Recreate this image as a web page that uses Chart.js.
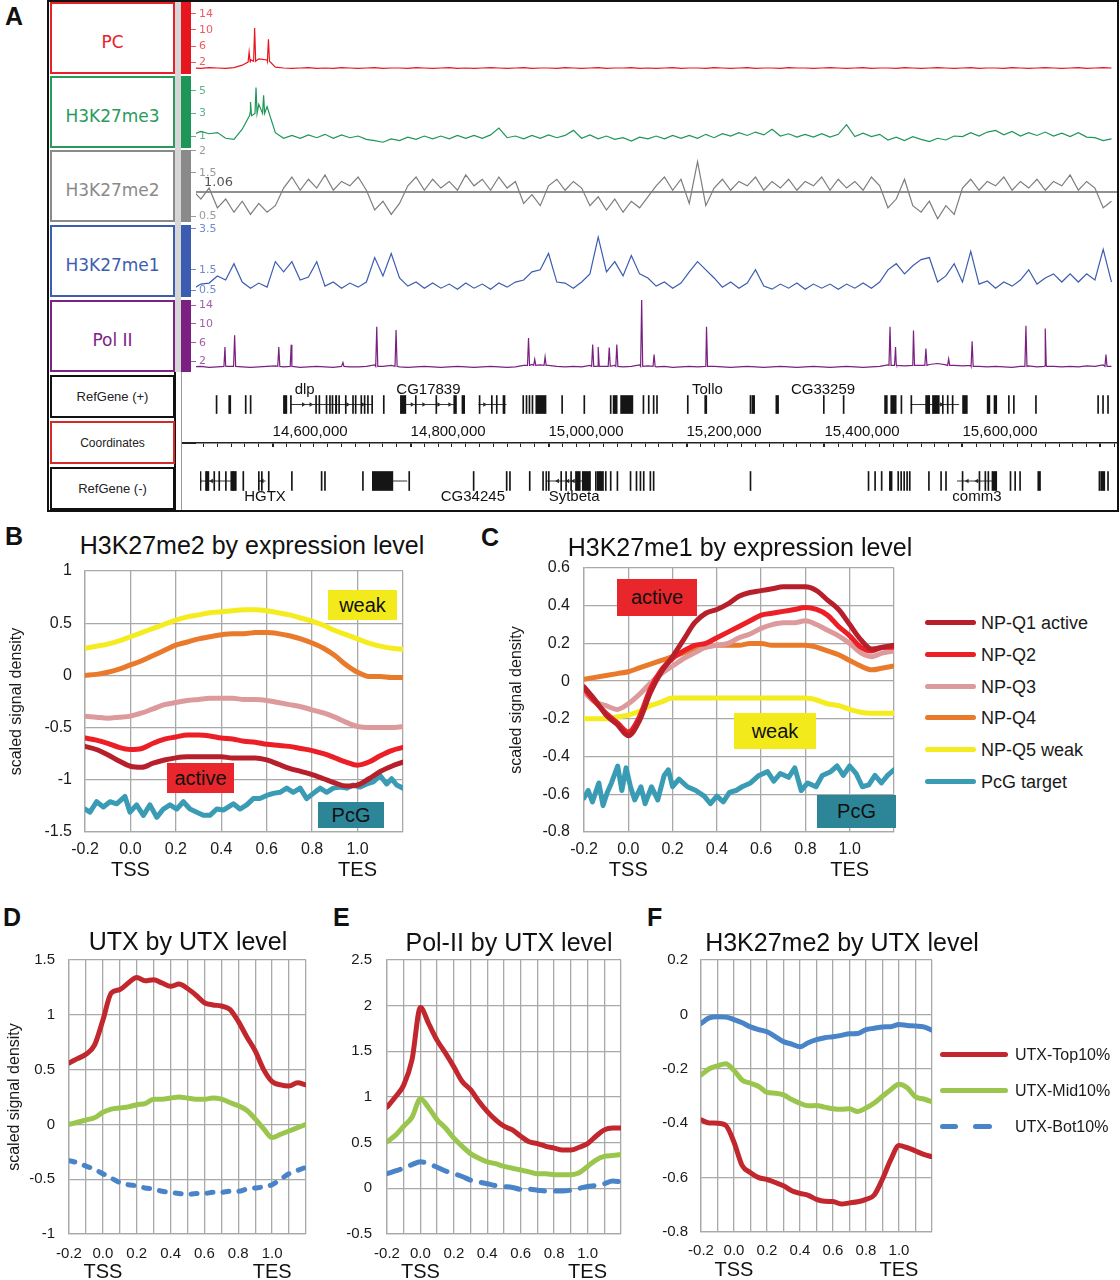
<!DOCTYPE html>
<html>
<head>
<meta charset="utf-8">
<title>H3K27 methylation and UTX profiles</title>
<script src="https://cdn.jsdelivr.net/npm/chart.js"></script>
<style>
  html, body { margin: 0; padding: 0; background: #fff; }
  #stage { position: relative; width: 1120px; height: 1280px; overflow: hidden;
           font-family: "Liberation Sans", Arial, sans-serif; color: #1a1a1a; }
  #stage canvas { position: absolute; }
  .abs { position: absolute; box-sizing: border-box; }
  .letter { font-weight: bold; font-size: 25px; line-height: 1; color: #111; z-index: 5; }
  .title { font-size: 25px; line-height: 1; text-align: center; white-space: nowrap; z-index: 5; color: #111; }
  .tag { font-size: 20px; display: flex; align-items: center; justify-content: center; color: #111; z-index: 5; }
  .lab { border: 2px solid; display: flex; align-items: center; justify-content: center; background: #fff; }
  .trk { font-family: "DejaVu Sans", Verdana, sans-serif; font-size: 17px; padding-top: 8px; }
  .gl { font-size: 13px; color: #222; }
  .leg { font-size: 18px; line-height: 1; white-space: nowrap; z-index: 5; }
  .sw { height: 5px; border-radius: 3px; z-index: 5; }
</style>
</head>
<body>
<div id="stage">
  <!-- panel A: frame and track labels -->
  <div class="abs" style="left:47px;top:0;width:1072px;height:512px;border:2px solid #111"></div>
  <div class="abs" style="left:175px;top:2px;width:6px;height:370px;background:#d6d6d6"></div>
  <div class="abs" style="left:174px;top:372px;width:2px;height:138px;background:#111"></div>
  <div class="abs" style="left:181px;top:372px;width:1px;height:138px;background:#9a9a9a"></div>
  <div class="abs" style="left:182px;top:442px;width:14px;height:2px;background:#222"></div>

  <div class="abs lab trk" style="left:50px;top:2px;width:125px;height:72px;border-color:#e8202a;color:#e8202a">PC</div>
  <div class="abs lab trk" style="left:50px;top:76px;width:125px;height:72px;border-color:#2a9a5c;color:#2a9a5c">H3K27me3</div>
  <div class="abs lab trk" style="left:50px;top:150px;width:125px;height:72px;border-color:#8a8a8a;color:#8a8a8a">H3K27me2</div>
  <div class="abs lab trk" style="left:50px;top:225px;width:125px;height:72px;border-color:#3d5db0;color:#3d5db0">H3K27me1</div>
  <div class="abs lab trk" style="left:50px;top:300px;width:125px;height:72px;border-color:#7d2383;color:#7d2383">Pol II</div>
  <div class="abs lab gl" style="left:50px;top:375px;width:125px;height:43px;border-color:#111">RefGene (+)</div>
  <div class="abs lab gl" style="left:50px;top:421px;width:125px;height:43px;border-color:#d42a2a;font-size:12px">Coordinates</div>
  <div class="abs lab gl" style="left:50px;top:467px;width:125px;height:43px;border-color:#111">RefGene (-)</div>

  <div class="abs" style="left:181px;top:2px;width:10px;height:72px;background:#e5161e"></div>
  <div class="abs" style="left:181px;top:76px;width:10px;height:72px;background:#1e9658"></div>
  <div class="abs" style="left:181px;top:150px;width:10px;height:72px;background:#8a8a8a"></div>
  <div class="abs" style="left:181px;top:225px;width:10px;height:72px;background:#3c5cb2"></div>
  <div class="abs" style="left:181px;top:300px;width:10px;height:72px;background:#7a2080"></div>

  <!-- panel letters and titles -->
  <div class="abs letter" style="left:5px;top:4px">A</div>
  <div class="abs letter" style="left:5px;top:524px">B</div>
  <div class="abs letter" style="left:481px;top:525px">C</div>
  <div class="abs letter" style="left:3px;top:905px">D</div>
  <div class="abs letter" style="left:333px;top:905px">E</div>
  <div class="abs letter" style="left:647px;top:905px">F</div>

  <div class="abs title" style="left:52px;top:533px;width:400px">H3K27me2 by expression level</div>
  <div class="abs title" style="left:540px;top:535px;width:400px">H3K27me1 by expression level</div>
  <div class="abs title" style="left:38px;top:929px;width:300px">UTX by UTX level</div>
  <div class="abs title" style="left:359px;top:930px;width:300px">Pol-II by UTX level</div>
  <div class="abs title" style="left:692px;top:930px;width:300px">H3K27me2 by UTX level</div>

  <!-- in-plot tags -->
  <div class="abs tag" style="left:328px;top:590px;width:69px;height:30px;background:#f3ea1b">weak</div>
  <div class="abs tag" style="left:167px;top:763px;width:67px;height:30px;background:#e8262b">active</div>
  <div class="abs tag" style="left:318px;top:802px;width:66px;height:26px;background:#2c8698">PcG</div>
  <div class="abs tag" style="left:617px;top:579px;width:80px;height:37px;background:#e8262b">active</div>
  <div class="abs tag" style="left:734px;top:713px;width:82px;height:36px;background:#f3ea1b">weak</div>
  <div class="abs tag" style="left:817px;top:795px;width:79px;height:33px;background:#2c8698">PcG</div>

  <!-- legend C -->
  <div class="abs sw" style="left:925px;top:620px;width:51px;background:#b71f2a"></div>
  <div class="abs leg" style="left:981px;top:614px">NP-Q1 active</div>
  <div class="abs sw" style="left:925px;top:652px;width:51px;background:#ec1f26"></div>
  <div class="abs leg" style="left:981px;top:646px">NP-Q2</div>
  <div class="abs sw" style="left:925px;top:684px;width:51px;background:#dc9a9c"></div>
  <div class="abs leg" style="left:981px;top:678px">NP-Q3</div>
  <div class="abs sw" style="left:925px;top:715px;width:51px;background:#e97a2c"></div>
  <div class="abs leg" style="left:981px;top:709px">NP-Q4</div>
  <div class="abs sw" style="left:925px;top:747px;width:51px;background:#f4ec1f"></div>
  <div class="abs leg" style="left:981px;top:741px">NP-Q5 weak</div>
  <div class="abs sw" style="left:925px;top:779px;width:51px;background:#3a9bb5"></div>
  <div class="abs leg" style="left:981px;top:773px">PcG target</div>

  <!-- legend F -->
  <div class="abs sw" style="left:940px;top:1052px;width:68px;background:#c1272d"></div>
  <div class="abs leg" style="left:1015px;top:1047px;font-size:16px">UTX-Top10%</div>
  <div class="abs sw" style="left:940px;top:1088px;width:68px;background:#9ac64e"></div>
  <div class="abs leg" style="left:1015px;top:1083px;font-size:16px">UTX-Mid10%</div>
  <div class="abs sw" style="left:940px;top:1124px;width:18px;background:#4a84c8"></div>
  <div class="abs sw" style="left:973px;top:1124px;width:19px;background:#4a84c8"></div>
  <div class="abs leg" style="left:1015px;top:1119px;font-size:16px">UTX-Bot10%</div>
</div>

<script>
'use strict'
// ---------------- panel A: browser tracks (positions in kb) ----------------
const A_MIN = 14489, A_MAX = 15824;
const coordLabels = [14600, 14800, 15000, 15200, 15400, 15600];

const binsKb = [
  14484, 14496, 14508, 14520, 14532, 14544, 14556, 14568, 14580, 14592,
  14604, 14616, 14628, 14640, 14652, 14664, 14676, 14688, 14700, 14712,
  14724, 14736, 14748, 14760, 14772, 14784, 14796, 14808, 14820, 14832,
  14844, 14856, 14868, 14880, 14892, 14904, 14916, 14928, 14940, 14952,
  14964, 14976, 14988, 15000, 15012, 15024, 15036, 15048, 15060, 15072,
  15084, 15096, 15108, 15120, 15132, 15144, 15156, 15168, 15180, 15192,
  15204, 15216, 15228, 15240, 15252, 15264, 15276, 15288, 15300, 15312,
  15324, 15336, 15348, 15360, 15372, 15384, 15396, 15408, 15420, 15432,
  15444, 15456, 15468, 15480, 15492, 15504, 15516, 15528, 15540, 15552,
  15564, 15576, 15588, 15600, 15612, 15624, 15636, 15648, 15660, 15672,
  15684, 15696, 15708, 15720, 15732, 15744, 15756, 15768, 15780, 15792,
  15804, 15816];

const pcVals = [
  0.5,0.4,0.6,0.5,0.4,0.6,1.2,2.6,2.8,2.5,
  0.7,0.5,0.4,0.5,0.6,0.4,0.5,0.4,0.6,0.5,
  0.4,0.5,0.6,0.4,0.5,0.5,0.4,0.6,0.5,0.4,
  0.5,0.6,0.4,0.5,0.4,0.5,0.6,0.5,0.4,0.5,
  0.6,0.4,0.5,0.5,0.4,0.6,0.5,0.4,0.5,0.6,
  0.4,0.5,0.5,0.6,0.4,0.5,0.4,0.5,0.6,0.4,
  0.5,0.5,0.4,0.6,0.5,0.4,0.5,0.6,0.4,0.5,
  0.5,0.4,0.6,0.5,0.5,0.4,0.5,0.6,0.5,0.4,
  0.5,0.6,0.4,0.5,0.5,0.4,0.6,0.5,0.4,0.5,
  0.6,0.5,0.4,0.5,0.6,0.4,0.5,0.5,0.4,0.6,
  0.5,0.4,0.5,0.6,0.5,0.4,0.5,0.6,0.4,0.5,
  0.6,0.5];
const pcSpikes = [[14566, 4.5, 2.0], [14574, 10.5, 2.2], [14594, 7.7, 2.2]];   // [kb, top, base]

const me3Vals = [
  1.1,1.4,1.2,1.3,0.8,0.7,1.6,3.2,3.8,3.6,
  1.3,0.8,1.05,0.8,1.1,0.85,1.15,0.8,1.1,0.85,
  1.0,0.7,0.6,0.45,0.75,0.6,0.9,0.7,1.0,0.75,
  1.0,0.75,1.05,0.8,1.05,0.8,1.1,1.7,0.85,1.0,
  0.75,1.05,0.8,1.1,0.85,1.05,1.5,0.8,1.1,0.75,
  1.0,0.7,0.85,0.55,0.9,0.75,1.0,0.75,1.05,0.8,
  1.05,0.8,1.15,0.85,1.2,1.0,1.3,1.05,1.35,1.1,
  1.6,1.0,1.2,0.9,1.15,0.9,1.2,0.9,1.15,2.0,
  0.95,1.25,0.95,1.15,0.65,0.9,0.6,0.95,0.7,0.5,
  0.8,0.65,1.0,0.95,1.3,1.0,1.35,1.5,1.1,1.4,
  1.0,1.3,1.05,1.35,1.0,1.25,0.95,1.3,0.9,0.85,
  0.6,0.75];
const me3Spikes = [[14568, 4.0, 2.8], [14576, 5.3, 3.0], [14587, 4.6, 3.0]];

const me2Vals = [
  1.1,0.9,1.15,0.7,0.9,0.6,0.85,0.55,0.8,0.6,
  0.75,1.15,1.4,1.1,1.35,1.15,1.45,1.1,1.3,1.2,
  1.4,1.1,0.65,0.85,0.55,0.8,1.2,1.4,1.1,1.35,
  1.15,1.3,1.1,1.45,1.2,1.35,1.1,1.4,1.15,1.3,
  0.8,1.0,0.75,1.2,1.35,1.1,1.3,1.15,0.75,0.95,
  0.65,0.9,0.6,0.85,0.7,0.95,1.2,1.4,1.1,1.35,
  0.8,1.75,0.75,1.15,1.35,1.1,1.3,1.2,1.4,1.1,
  1.3,1.15,1.35,1.1,1.3,1.2,1.4,1.1,1.35,1.15,
  1.3,1.1,1.4,1.2,0.7,0.9,1.35,0.75,0.6,0.85,
  0.45,0.75,0.55,1.15,1.35,1.1,1.3,1.2,1.4,1.1,
  1.3,1.15,1.35,1.1,1.3,1.2,1.45,1.1,1.3,1.15,
  0.7,0.85];
const me2Ref = 1.06;

const me1Vals = [
  0.55,0.8,0.85,1.2,1.0,1.8,0.9,0.6,0.85,0.65,
  1.9,1.4,1.9,1.0,1.15,1.9,0.7,0.9,0.6,0.85,
  0.65,0.9,2.1,1.2,2.3,1.1,0.7,0.9,0.6,0.85,
  0.6,0.8,0.55,0.85,0.6,0.8,0.55,0.85,0.65,0.9,
  1.0,1.4,1.5,2.3,0.9,0.85,0.6,0.9,1.3,3.1,
  1.4,1.9,1.2,2.2,1.3,1.1,0.7,0.9,0.6,0.85,
  1.4,1.9,1.5,1.1,0.65,0.9,0.6,0.85,1.5,0.7,
  0.55,0.8,0.6,0.85,0.55,0.8,0.6,0.8,0.55,0.8,
  0.6,0.85,0.6,0.9,1.5,1.8,1.3,1.7,2.0,2.1,
  0.9,1.2,1.8,0.9,2.4,0.8,0.95,0.6,0.9,0.7,
  1.0,1.5,0.8,1.1,1.3,0.9,1.3,0.9,1.3,1.0,
  2.5,0.9];

const polVals = [
  0.9,1.0,0.8,0.9,1.1,1.0,0.9,0.8,0.9,1.0,
  1.1,0.9,1.0,0.8,0.9,1.0,0.9,0.8,1.0,0.9,
  0.9,1.0,1.3,1.0,1.2,0.9,0.8,0.9,1.0,0.9,
  0.8,0.9,1.0,0.9,0.8,0.9,1.0,0.9,0.8,0.9,
  1.2,1.4,1.3,1.2,1.0,0.9,1.0,0.9,1.2,1.1,
  1.0,1.2,0.9,1.0,1.3,1.1,0.9,1.0,0.8,0.9,
  1.0,0.9,1.2,1.0,0.9,0.8,0.9,1.0,0.9,0.8,
  0.9,1.0,0.9,0.8,0.9,1.0,0.9,0.8,0.9,1.0,
  0.9,0.8,0.9,1.0,1.3,1.4,1.1,1.3,1.2,1.4,
  1.6,1.3,1.2,1.1,1.2,1.0,0.9,1.0,0.9,0.8,
  1.0,1.1,0.9,1.2,1.0,0.9,1.0,0.9,1.1,1.0,
  1.3,1.0];
const polSpikes = [
  [14531,5.1,1],[14545,7.6,1],[14609,5.1,1],[14627,5.6,1],[14702,1.8,1],[14751,9.4,1],
  [14779,8.7,1],[14971,7.0,1.2],[14980,2.5,1.2],[14995,3.0,1.2],[15064,5.6,1],[15072,5.1,1],
  [15088,5.0,1],[15099,5.6,1],[15135,15.2,1],[15153,3.5,1],[15229,9.4,1],[15495,9.4,1.2],
  [15503,5.1,1.2],[15529,8.6,1.2],[15547,4.8,1.2],[15580,2.6,1.2],[15614,6.3,1],[15692,9.6,1],
  [15720,9.0,1],[15808,3.5,1]];

// gene models: single thin exons, wider exon blocks, intron spans, strand arrows
const plusThin = [14512.5,14555.1,14562.3,14621.2,14658.0,14662.8,14673.3,14678.3,14682.0,14691.7,
  14701.4,14712.0,14715.9,14724.1,14729.0,14733.8,14740.0,14757.0,14803.8,14833.8,14897.1,14915.0,
  14922.2,14960.9,14965.7,14970.0,14974.4,15017.8,15050.2,15088.8,15136.7,15144.4,15151.6,15156.5,
  15201.5,15293.2,15400.4,15429.4,15513.9,15528.4,15574.4,15581.6,15588.8,15671.0,15678.3,15710.6,
  15801.5,15808.7,15816.0];
const plusBlocks = [[14531,14534],[14611,14616],[14687,14689],[14782,14790],[14860,14864],[14872,14876],
  [14932,14935],[14980,14995],[15093,15099],[15104,15122],[15227,15230],[15296,15300],[15331,15335],
  [15490,15494],[15499,15507],[15550,15556],[15560,15570],[15604,15611],[15640,15644],[15650,15654]];
const plusIntrons = [[14622,14741],[14790,14864],[14896,14937],[15528,15599]];
const plusArrows = [14640,14651,14705,14727,14799,14816,14838,14854,14905,15573];
const plusNames = ['dlp', 'CG17839', 'Tollo', 'CG33259'];
const plusNameKb = [14642, 14823, 15231, 15400];

const minusThin = [14477.7,14497.1,14509.1,14516.4,14526.1,14536.7,14540.6,14551.6,14574.3,14578.7,
  14588.8,14622.6,14666.1,14671.0,14726.5,14794.2,14888.4,14936.7,14941.5,14970.4,14989.9,14994.6,
  14998.3,15016.4,15023.6,15030.9,15067.1,15081.6,15088.8,15098.6,15117.8,15126.5,15132.3,15137.1,
  15146.8,15151.6,15293.2,15465.8,15475.4,15485.0,15509.2,15513.5,15517.9,15522.2,15526.1,15554.1,
  15571.9,15579.1,15603.3,15628.0,15636.6,15641.0,15673.4,15680.2,15687.4,15803.4,15816.0];
const minusBlocks = [[14498,14502],[14534,14540],[14741,14771],[15038,15045],[15048,15060],[15070,15079],
  [15497,15501],[15647,15654],[15714,15718],[15806,15812]];
const minusIntrons = [[14468,14541],[14574,14585],[14770,14792],[14995,15053],[15596,15649]];
const minusArrows = [14474,14489,14506,14580,15012,15027,15035,15611,15625];
const minusNames = ['HGTX', 'CG34245', 'Sytbeta', 'comm3'];
const minusNameKb = [14584, 14888, 15036, 15625];

// ---------------- panels B-F: metagene profiles ----------------
const xs = [-0.2,-0.15,-0.1,-0.05,0,0.05,0.1,0.15,0.2,0.25,0.3,0.35,0.4,0.45,0.5,
            0.55,0.6,0.65,0.7,0.75,0.8,0.85,0.9,0.95,1,1.05,1.1,1.15,1.2];

const bQ1 = [-0.68,-0.71,-0.76,-0.82,-0.87,-0.88,-0.84,-0.81,-0.79,-0.78,-0.78,-0.78,-0.78,-0.79,-0.79,
             -0.79,-0.81,-0.85,-0.89,-0.92,-0.95,-0.99,-1.03,-1.06,-1.05,-0.99,-0.92,-0.87,-0.83];
const bQ2 = [-0.60,-0.62,-0.65,-0.69,-0.71,-0.70,-0.65,-0.61,-0.59,-0.57,-0.57,-0.58,-0.60,-0.61,-0.63,
             -0.64,-0.66,-0.67,-0.68,-0.70,-0.72,-0.75,-0.79,-0.83,-0.86,-0.83,-0.77,-0.72,-0.69];
const bQ3 = [-0.39,-0.40,-0.41,-0.40,-0.39,-0.36,-0.32,-0.28,-0.26,-0.24,-0.23,-0.22,-0.22,-0.22,-0.23,
             -0.23,-0.24,-0.26,-0.28,-0.30,-0.33,-0.36,-0.40,-0.45,-0.49,-0.50,-0.50,-0.50,-0.49];
const bQ4 = [0.00,0.01,0.03,0.06,0.10,0.14,0.19,0.24,0.29,0.32,0.35,0.37,0.39,0.40,0.40,
             0.41,0.41,0.40,0.38,0.35,0.31,0.26,0.19,0.10,0.03,-0.01,-0.01,-0.02,-0.02];
const bQ5 = [0.26,0.28,0.30,0.33,0.37,0.41,0.45,0.49,0.53,0.56,0.58,0.60,0.61,0.62,0.63,
             0.63,0.62,0.60,0.58,0.55,0.52,0.48,0.43,0.39,0.35,0.31,0.28,0.26,0.25];
const bPcgX = [-0.2,-0.178,-0.149,-0.119,-0.09,-0.061,-0.024,-0.002,0.027,0.057,0.086,0.116,0.145,0.174,
  0.204,0.233,0.262,0.292,0.321,0.35,0.38,0.409,0.453,0.482,0.512,0.541,0.57,0.6,0.629,0.659,0.688,
  0.717,0.747,0.776,0.805,0.835,0.864,0.893,0.923,0.952,0.981,1.011,1.04,1.069,1.099,1.128,1.15,1.172,1.2];
const bPcgY = [-1.28,-1.31,-1.21,-1.26,-1.21,-1.23,-1.16,-1.31,-1.24,-1.34,-1.24,-1.36,-1.28,-1.24,
  -1.28,-1.21,-1.28,-1.31,-1.34,-1.34,-1.28,-1.29,-1.23,-1.28,-1.24,-1.18,-1.18,-1.15,-1.13,-1.12,-1.08,
  -1.12,-1.08,-1.18,-1.13,-1.08,-1.12,-1.08,-1.07,-1.08,-1.05,-1.07,-1.04,-1.02,-0.96,-1.04,-0.99,-1.05,-1.08];

const cQ1 = [-0.03,-0.10,-0.18,-0.23,-0.29,-0.21,-0.06,0.05,0.13,0.22,0.31,0.36,0.38,0.41,0.45,
             0.47,0.48,0.49,0.50,0.50,0.50,0.48,0.43,0.38,0.30,0.22,0.17,0.18,0.19];
const cQ2 = [-0.04,-0.11,-0.17,-0.22,-0.27,-0.19,-0.04,0.06,0.12,0.16,0.19,0.20,0.23,0.26,0.29,
             0.32,0.35,0.36,0.37,0.38,0.39,0.38,0.35,0.29,0.24,0.18,0.16,0.18,0.18];
const cQ3 = [-0.06,-0.11,-0.13,-0.15,-0.12,-0.07,-0.01,0.04,0.08,0.12,0.15,0.18,0.19,0.20,0.23,
             0.25,0.28,0.30,0.31,0.31,0.32,0.30,0.27,0.24,0.20,0.15,0.13,0.15,0.16];
const cQ4 = [0.01,0.02,0.03,0.04,0.05,0.07,0.09,0.11,0.13,0.15,0.17,0.18,0.19,0.19,0.19,
             0.20,0.20,0.19,0.19,0.19,0.19,0.18,0.16,0.14,0.11,0.08,0.06,0.07,0.08];
const cQ5 = [-0.20,-0.20,-0.20,-0.19,-0.18,-0.16,-0.13,-0.11,-0.09,-0.09,-0.09,-0.09,-0.09,-0.09,-0.09,
             -0.09,-0.09,-0.09,-0.09,-0.09,-0.09,-0.10,-0.12,-0.13,-0.15,-0.165,-0.17,-0.17,-0.17];
const cPcgX = [-0.2,-0.181,-0.162,-0.133,-0.114,-0.095,-0.076,-0.048,-0.029,-0.01,0.01,0.029,0.057,0.076,
  0.105,0.133,0.162,0.181,0.2,0.229,0.267,0.305,0.343,0.371,0.4,0.429,0.457,0.486,0.514,0.552,0.59,0.629,
  0.657,0.686,0.724,0.752,0.781,0.81,0.848,0.876,0.914,0.943,0.971,1.0,1.029,1.057,1.086,1.114,1.143,1.171,1.2];
const cPcgY = [-0.62,-0.58,-0.64,-0.54,-0.66,-0.59,-0.54,-0.45,-0.58,-0.46,-0.56,-0.63,-0.56,-0.65,
  -0.56,-0.63,-0.50,-0.47,-0.56,-0.52,-0.56,-0.58,-0.61,-0.65,-0.61,-0.64,-0.59,-0.58,-0.56,-0.54,-0.50,
  -0.48,-0.53,-0.49,-0.51,-0.46,-0.58,-0.54,-0.56,-0.50,-0.48,-0.45,-0.50,-0.45,-0.49,-0.56,-0.55,-0.50,
  -0.54,-0.50,-0.47];

const dTop = [0.56,0.60,0.64,0.72,0.95,1.20,1.23,1.29,1.34,1.31,1.32,1.29,1.26,1.28,1.24,
              1.18,1.11,1.09,1.08,1.05,0.94,0.80,0.67,0.50,0.39,0.36,0.35,0.38,0.36];
const dMid = [0.00,0.02,0.04,0.06,0.11,0.14,0.15,0.16,0.18,0.19,0.23,0.23,0.24,0.25,0.24,
              0.23,0.23,0.24,0.23,0.20,0.17,0.13,0.05,-0.04,-0.12,-0.09,-0.06,-0.03,0.00];
const dBot = [-0.33,-0.35,-0.38,-0.41,-0.45,-0.49,-0.53,-0.55,-0.56,-0.58,-0.59,-0.61,-0.62,-0.63,-0.64,
              -0.63,-0.63,-0.62,-0.62,-0.61,-0.61,-0.59,-0.58,-0.57,-0.55,-0.50,-0.45,-0.42,-0.39];

const eTop = [0.89,1.00,1.13,1.41,1.98,1.80,1.62,1.48,1.33,1.17,1.08,0.95,0.84,0.75,0.68,
              0.64,0.57,0.51,0.49,0.46,0.44,0.42,0.42,0.45,0.49,0.57,0.64,0.66,0.66];
const eMid = [0.51,0.58,0.68,0.78,0.98,0.88,0.75,0.66,0.55,0.46,0.38,0.33,0.29,0.27,0.24,
              0.22,0.20,0.18,0.16,0.16,0.15,0.15,0.15,0.17,0.24,0.31,0.35,0.36,0.37];
const eBot = [0.16,0.19,0.22,0.26,0.29,0.27,0.23,0.19,0.16,0.13,0.09,0.07,0.05,0.03,0.02,
              0.01,-0.01,-0.01,-0.02,-0.03,-0.03,-0.03,-0.02,0.00,0.02,0.03,0.05,0.08,0.07];

const fTop = [-0.388,-0.399,-0.400,-0.408,-0.470,-0.556,-0.582,-0.600,-0.607,-0.618,-0.630,-0.648,-0.658,-0.665,-0.680,
              -0.687,-0.688,-0.697,-0.693,-0.689,-0.680,-0.664,-0.605,-0.534,-0.482,-0.490,-0.502,-0.515,-0.523];
const fMid = [-0.223,-0.200,-0.189,-0.181,-0.206,-0.242,-0.253,-0.265,-0.287,-0.290,-0.296,-0.313,-0.327,-0.336,-0.335,
              -0.341,-0.347,-0.349,-0.347,-0.357,-0.344,-0.326,-0.301,-0.277,-0.257,-0.270,-0.303,-0.311,-0.321];
const fBot = [-0.033,-0.013,-0.009,-0.010,-0.019,-0.031,-0.046,-0.056,-0.064,-0.082,-0.100,-0.109,-0.119,-0.104,-0.093,
              -0.086,-0.082,-0.077,-0.071,-0.070,-0.056,-0.051,-0.046,-0.045,-0.037,-0.041,-0.043,-0.046,-0.058];

// ---------------- helpers ----------------
const FONT = '"Liberation Sans", Arial, sans-serif';
const GRID = '#a9a9a9';
const C_Q1 = '#b71f2a', C_Q2 = '#ec1f26', C_Q3 = '#dc9a9c', C_Q4 = '#e97a2c', C_Q5 = '#f4ec1f', C_PCG = '#3a9bb5';
const C_TOP = '#c1272d', C_MID = '#9ac64e', C_BOT = '#4a84c8';

function canvasAt(left, top, w, h) {
  const c = document.createElement('canvas');
  c.width = w; c.height = h;
  c.style.left = left + 'px'; c.style.top = top + 'px';
  document.getElementById('stage').appendChild(c);
  return c;
}

// text placed with the chart's own scales
function textMarks(items, st) {
  return {
    id: 'textMarks',
    afterDatasetsDraw(chart) {
      const {ctx, chartArea, scales} = chart;
      ctx.save();
      ctx.font = st.font;
      ctx.fillStyle = st.color || '#111';
      ctx.textAlign = st.align || 'center';
      ctx.textBaseline = 'middle';
      items.forEach(it => {
        const x = scales.x.getPixelForValue(it.x) + (st.shiftX || 0);
        const y = (st.below != null ? chartArea.bottom + st.below : scales.y.getPixelForValue(it.y)) + (st.shiftY || 0);
        ctx.fillText(it.text, x, y);
      });
      ctx.restore();
    }
  };
}

function trackChart(o) {
  const c = canvasAt(188, o.top, 929, o.h);
  const pts = binsKb.map((x, i) => ({x: x, y: o.vals[i]}));
  (o.spikes || []).forEach(s => {
    pts.push({x: s[0] - 1.5, y: s[2]}, {x: s[0], y: s[1]}, {x: s[0] + 1.5, y: s[2]});
  });
  pts.sort((a, b) => a.x - b.x);
  const datasets = [{data: pts, borderColor: o.color, borderWidth: 1.2, pointRadius: 0, tension: 0}];
  const extra = [];
  if (o.ref != null) {
    datasets.push({data: [{x: A_MIN, y: o.ref}, {x: A_MAX, y: o.ref}], borderColor: '#222', borderWidth: 1.2, pointRadius: 0});
    extra.push(textMarks([{text: String(o.ref), x: A_MIN, y: o.ref}],
      {font: '13px "DejaVu Sans", Verdana, sans-serif', color: '#555', align: 'left', shiftX: 8, shiftY: -9}));
  }
  new Chart(c, {
    type: 'line',
    data: {datasets: datasets},
    options: {
      responsive: false, animation: false, events: [],
      plugins: {legend: {display: false}, tooltip: {enabled: false}},
      scales: {
        x: {type: 'linear', min: A_MIN, max: A_MAX, display: false},
        y: {min: o.min, max: o.max,
            afterBuildTicks: s => { s.ticks = o.ticks.map(v => ({value: v})); },
            afterFit: s => { s.width = 8; s.paddingTop = 0; s.paddingBottom = 0; },
            ticks: {mirror: true, padding: 3, color: o.tickColor, callback: v => String(v),
                    font: {family: '"DejaVu Sans", Verdana, sans-serif', size: 11}},
            grid: {drawOnChartArea: false, drawTicks: true, tickLength: 5, color: o.tickColor},
            border: {display: false}}
      }
    },
    plugins: extra
  });
}

function geneChart(o) {
  const c = canvasAt(196, o.top, 921, o.h);
  const bars = o.thin.map(p => ({x: [p, p], y: 0})).concat(o.blocks.map(b => ({x: b, y: 0})));
  const intronPts = [];
  o.introns.forEach(([s, e]) => { intronPts.push({x: s, y: 0}, {x: e, y: 0}, {x: e, y: null}); });
  new Chart(c, {
    type: 'bar',
    data: {datasets: [
      {type: 'bar', indexAxis: 'y', data: bars, backgroundColor: '#151515', barThickness: o.thick,
       minBarLength: 1, borderWidth: 0},
      {type: 'line', data: intronPts, borderColor: '#333', borderWidth: 1, pointRadius: 0, spanGaps: false},
      {type: 'line', data: o.arrows.map(p => ({x: p, y: 0})), showLine: false, pointStyle: 'triangle',
       rotation: o.rot, pointRadius: 2.5, pointBackgroundColor: '#222', pointBorderWidth: 0}
    ]},
    options: {
      responsive: false, animation: false, events: [],
      plugins: {legend: {display: false}, tooltip: {enabled: false}},
      scales: {
        x: {type: 'linear', min: A_MIN, max: A_MAX, display: false, offset: false},
        y: {type: 'linear', min: o.yMin, max: o.yMax, display: false, offset: false}
      }
    },
    plugins: [textMarks(o.names.map((t, i) => ({text: t, x: o.nameKb[i], y: o.nameY})),
                        {font: '15px ' + FONT, color: '#111'})]
  });
}

function coordChart() {
  const c = canvasAt(196, 420, 921, 27);
  new Chart(c, {
    type: 'line',
    data: {datasets: []},
    options: {
      responsive: false, animation: false, events: [],
      plugins: {legend: {display: false}, tooltip: {enabled: false}},
      scales: {
        x: {type: 'linear', position: 'top', min: A_MIN, max: A_MAX,
            afterFit: s => { s.height = 23; s.paddingLeft = 0; s.paddingRight = 0; },
            ticks: {stepSize: 20, includeBounds: false, autoSkip: false, maxRotation: 0, align: 'start',
                    padding: 2, color: '#111', font: {family: FONT, size: 15},
                    callback: v => (coordLabels.includes(v) ? (v * 1000).toLocaleString('en-US') : '')},
            grid: {drawTicks: false, color: '#222', lineWidth: ctx => (ctx.tick && ctx.tick.value % 200 === 0 ? 2 : 1)},
            border: {color: '#222', width: 1.5}},
        y: {display: false, min: 0, max: 1}
      }
    }
  });
}

function profileChart(o) {
  const c = canvasAt(o.left, o.top, o.w, o.h);
  const yW = o.area[0] - o.left - o.padL;
  const xH = o.top + o.h - o.area[3];
  const datasets = o.series.map(s => ({
    data: s.x.map((x, i) => ({x: x, y: s.y[i]})),
    borderColor: s.color, borderWidth: 5, borderDash: s.dash || [],
    borderCapStyle: 'round', borderJoinStyle: 'round', pointRadius: 0, fill: false,
    tension: s.rough ? 0 : 0.4, cubicInterpolationMode: s.rough ? 'default' : 'monotone'
  }));
  new Chart(c, {
    type: 'line',
    data: {datasets: datasets},
    options: {
      responsive: false, animation: false, events: [],
      layout: {padding: {left: o.padL, top: o.area[1] - o.top, right: o.left + o.w - o.area[2], bottom: 0}},
      plugins: {legend: {display: false}, tooltip: {enabled: false}},
      scales: {
        x: {type: 'linear', min: -0.2, max: 1.2,
            afterFit: s => { s.height = xH; s.paddingLeft = 0; s.paddingRight = 0; },
            ticks: {stepSize: o.xStep, autoSkip: false, maxRotation: 0, padding: o.xPad, color: '#1a1a1a',
                    font: {family: FONT, size: o.fs},
                    callback: (v, i, t) => (i % o.every === 0 && i < t.length - 1
                      ? (Math.abs(v) < 1e-9 ? 0 : v).toFixed(1) : '')},
            grid: {color: GRID, lineWidth: 1.3, drawTicks: false},
            border: {color: GRID, width: 1.3}},
        y: {min: o.yMin, max: o.yMax,
            afterFit: s => { s.width = yW; s.paddingTop = 0; s.paddingBottom = 0; },
            ticks: {stepSize: o.yStep, padding: o.yPad, color: '#1a1a1a', font: {family: FONT, size: o.fs},
                    callback: v => String(Math.round(v * 100) / 100 || 0)},
            grid: {color: GRID, lineWidth: 1.3, drawTicks: false},
            border: {color: GRID, width: 1.3},
            title: {display: !!o.yTitle, text: o.yTitle || '', color: '#1a1a1a',
                    font: {family: FONT, size: 16}, padding: {top: 4, bottom: 0}}}
      }
    },
    plugins: [textMarks([{text: 'TSS', x: 0}, {text: 'TES', x: 1}], {font: '20px ' + FONT, color: '#111', below: 38})]
  });
}

// ---------------- build panel A ----------------
trackChart({top: 2, h: 72, min: -1, max: 17, ticks: [14, 10, 6, 2], vals: pcVals, spikes: pcSpikes,
            color: '#e5161e', tickColor: '#f0595e'});
trackChart({top: 76, h: 72, min: -0.06, max: 6.31, ticks: [5, 3, 1], vals: me3Vals, spikes: me3Spikes,
            color: '#1e9658', tickColor: '#5cb487'});
trackChart({top: 143, h: 79, min: 0.378, max: 2.174, ticks: [2, 1.5, 0.5], vals: me2Vals, ref: me2Ref,
            color: '#7d7d7d', tickColor: '#9a9a9a'});
trackChart({top: 222, h: 75, min: 0.167, max: 3.843, ticks: [3.5, 2.5, 1.5, 1, 0.5], vals: me1Vals,
            color: '#3c5cb2', tickColor: '#6f8ccc'});
trackChart({top: 300, h: 72, min: -0.195, max: 15.06, ticks: [14, 10, 6, 2], vals: polVals, spikes: polSpikes,
            color: '#7a2080', tickColor: '#a35ea8'});

geneChart({top: 375, h: 45, yMin: -0.45, yMax: 1, thick: 18, thin: plusThin, blocks: plusBlocks,
           introns: plusIntrons, arrows: plusArrows, rot: 90, names: plusNames, nameKb: plusNameKb, nameY: 0.565});
coordChart();
geneChart({top: 465, h: 45, yMin: -1.0, yMax: 0.48, thick: 19, thin: minusThin, blocks: minusBlocks,
           introns: minusIntrons, arrows: minusArrows, rot: -90, names: minusNames, nameKb: minusNameKb, nameY: -0.638});

// ---------------- build panels B-F ----------------
profileChart({left: 0, top: 560, w: 460, h: 330, area: [85, 571, 403, 832], padL: 3,
  yMin: -1.5, yMax: 1, yStep: 0.5, xStep: 0.2, every: 1, fs: 16, xPad: 8, yPad: 13, yTitle: 'scaled signal density',
  series: [
    {x: xs, y: bQ1, color: C_Q1}, {x: xs, y: bQ2, color: C_Q2}, {x: xs, y: bQ3, color: C_Q3},
    {x: xs, y: bQ4, color: C_Q4}, {x: xs, y: bQ5, color: C_Q5}, {x: bPcgX, y: bPcgY, color: C_PCG, rough: true}]});

profileChart({left: 480, top: 560, w: 430, h: 330, area: [584, 568, 894, 832], padL: 23,
  yMin: -0.8, yMax: 0.6, yStep: 0.2, xStep: 0.2, every: 1, fs: 16, xPad: 8, yPad: 14, yTitle: 'scaled signal density',
  series: [
    {x: xs, y: cQ1, color: C_Q1}, {x: xs, y: cQ2, color: C_Q2}, {x: xs, y: cQ3, color: C_Q3},
    {x: xs, y: cQ4, color: C_Q4}, {x: xs, y: cQ5, color: C_Q5}, {x: cPcgX, y: cPcgY, color: C_PCG, rough: true}]});

profileChart({left: 0, top: 950, w: 330, h: 330, area: [69, 960, 306, 1234], padL: 1,
  yMin: -1, yMax: 1.5, yStep: 0.5, xStep: 0.1, every: 2, fs: 15, xPad: 11, yPad: 14, yTitle: 'scaled signal density',
  series: [{x: xs, y: dTop, color: C_TOP}, {x: xs, y: dMid, color: C_MID}, {x: xs, y: dBot, color: C_BOT, dash: [6, 10]}]});

profileChart({left: 330, top: 950, w: 300, h: 330, area: [387, 960, 621, 1234], padL: 0,
  yMin: -0.5, yMax: 2.5, yStep: 0.5, xStep: 0.1, every: 2, fs: 15, xPad: 11, yPad: 15,
  series: [{x: xs, y: eTop, color: C_TOP}, {x: xs, y: eMid, color: C_MID}, {x: xs, y: eBot, color: C_BOT, dash: [14, 11]}]});

profileChart({left: 636, top: 950, w: 310, h: 330, area: [701, 960, 932, 1232], padL: 0,
  yMin: -0.8, yMax: 0.2, yStep: 0.2, xStep: 0.1, every: 2, fs: 15, xPad: 10, yPad: 13,
  series: [{x: xs, y: fTop, color: C_TOP}, {x: xs, y: fMid, color: C_MID}, {x: xs, y: fBot, color: C_BOT}]});
</script>
</body>
</html>
